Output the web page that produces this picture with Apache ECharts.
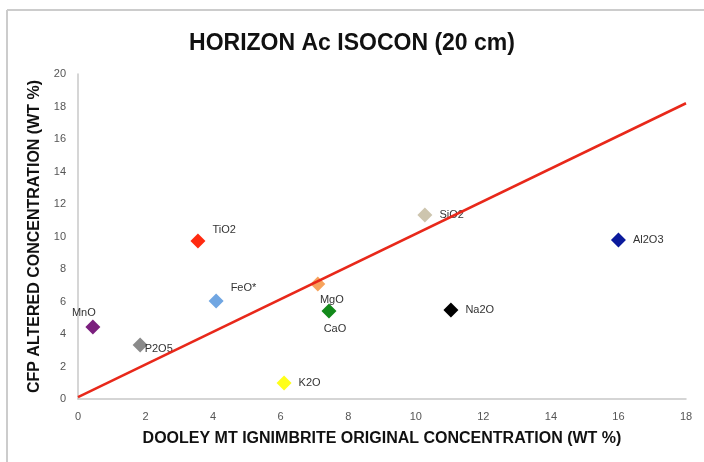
<!DOCTYPE html>
<html>
<head>
<meta charset="utf-8">
<script src="https://cdn.jsdelivr.net/npm/echarts@6/dist/echarts.min.js"></script>
<style>
  html, body { margin: 0; padding: 0; background: #fff; }
  #chart { width: 704px; height: 462px; }
</style>
</head>
<body>
<div id="chart"></div>
<script>
// oxide data
const oxides = ['MnO', 'P2O5', 'TiO2', 'FeO*', 'MgO', 'CaO', 'K2O', 'SiO2', 'Na2O', 'Al2O3'];
const original = [0.44, 1.84, 3.55, 4.09, 7.1, 7.43, 6.1, 10.27, 11.04, 16.0];
const altered = [4.43, 3.32, 9.72, 6.03, 7.08, 5.42, 0.98, 11.32, 5.48, 9.78];
const colors = ['#7b1f7e', '#8a8a8a', '#ff2a10', '#70a6e2', '#f7a35c', '#12891a', '#ffff1a', '#cdc5ae', '#000000', '#0b1a9c'];
const labelPos = ['top', 'right', 'right', 'right', 'bottom', 'bottom', 'right', 'right', 'right', 'right'];
const labelOffset = [[-9, 4], [-8, 4], [2, -11], [2, -13], [14, -2], [6, 0], [2, 0], [2, 0], [2, 0], [2, 0]];

// isocon line
const isoconX = [0, 18];
const isoconY = [0.12, 18.2];

const chart = echarts.init(document.getElementById('chart'));

const points = oxides.map((name, i) => ({
  name: name,
  value: [original[i], altered[i]],
  itemStyle: { color: colors[i], opacity: 1 },
  label: { position: labelPos[i], offset: labelOffset[i] }
}));

chart.setOption({
  animation: false,
  title: {
    text: 'HORIZON Ac ISOCON (20 cm)',
    left: 'center',
    top: 27,
    textStyle: { fontFamily: 'Liberation Sans', fontWeight: 'bold', fontSize: 23, color: '#111' }
  },
  grid: { left: 78, right: 18, top: 74, bottom: 63 },
  graphic: [
    { type: 'line', shape: { x1: 7, y1: 10, x2: 704, y2: 10 }, style: { stroke: '#cccccc', lineWidth: 2 } },
    { type: 'line', shape: { x1: 7, y1: 10, x2: 7, y2: 462 }, style: { stroke: '#cccccc', lineWidth: 2 } }
  ],
  xAxis: {
    type: 'value',
    min: 0, max: 18, interval: 2,
    name: 'DOOLEY MT IGNIMBRITE ORIGINAL CONCENTRATION (WT %)',
    nameLocation: 'middle',
    nameGap: 32,
    nameTextStyle: { fontFamily: 'Liberation Sans', fontWeight: 'bold', fontSize: 16, color: '#111' },
    axisLine: { lineStyle: { color: '#c8c8c8', width: 1.5 } },
    axisTick: { show: false },
    splitLine: { show: false },
    axisLabel: { color: '#555', fontSize: 11, fontFamily: 'Liberation Sans', margin: 12 }
  },
  yAxis: {
    type: 'value',
    min: 0, max: 20, interval: 2,
    name: 'CFP ALTERED CONCENTRATION (WT %)',
    nameLocation: 'middle',
    nameGap: 32,
    nameTextStyle: { fontFamily: 'Liberation Sans', fontWeight: 'bold', fontSize: 16, color: '#111' },
    axisLine: { show: true, lineStyle: { color: '#c8c8c8', width: 1.5 } },
    axisTick: { show: false },
    splitLine: { show: false },
    axisLabel: { color: '#555', fontSize: 11, fontFamily: 'Liberation Sans', margin: 12 }
  },
  series: [
    {
      type: 'line',
      data: isoconX.map((x, i) => [x, isoconY[i]]),
      showSymbol: false,
      lineStyle: { color: '#e8281a', width: 2.5 },
      z: 3
    },
    {
      type: 'scatter',
      symbol: 'diamond',
      symbolSize: 15,
      data: points,
      label: {
        show: true,
        formatter: '{b}',
        color: '#333',
        fontSize: 11,
        fontFamily: 'Liberation Sans'
      },
      z: 2
    }
  ]
});
</script>
</body>
</html>
